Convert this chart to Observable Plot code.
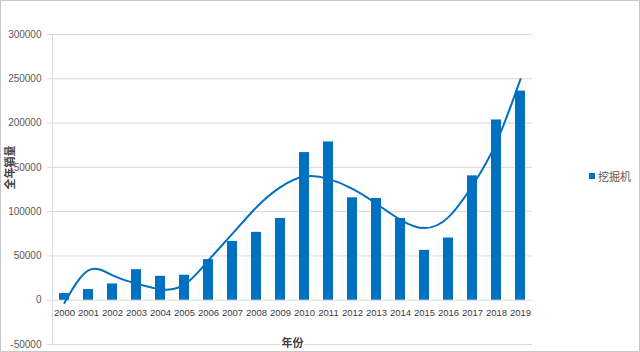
<!DOCTYPE html>
<html>
<head>
<meta charset="utf-8">
<script src="https://cdn.jsdelivr.net/npm/d3@7"></script>
<script src="https://cdn.jsdelivr.net/npm/@observablehq/plot@0.6"></script>
<style>
  body { margin: 0; background: #fff; }
  #wrap { position: relative; width: 640px; height: 352px; background: #fff; overflow: hidden;
          font-family: "Liberation Sans", Arial, "Noto Sans CJK SC", sans-serif; }
  #chart svg { position: absolute; left: 0; top: 0; }
  #border { position: absolute; left: 0; top: 0; width: 640px; height: 352px; box-sizing: border-box;
            border: 1px solid #c8c8c8; pointer-events: none; }
  #legend { position: absolute; left: 589px; top: 168px; font-size: 11px; color: #595959;
            display: flex; align-items: center; font-family: "Noto Sans CJK SC", sans-serif; }
  #legend .sw { display: inline-block; width: 6px; height: 6px; background: #0070c0; margin-right: 3px; }
</style>
</head>
<body>
<div id="wrap">
  <div id="chart"></div>
  <div id="legend"><span class="sw"></span><span>挖掘机</span></div>
  <div id="border"></div>
</div>
<script>
const years = ["2000","2001","2002","2003","2004","2005","2006","2007","2008","2009",
               "2010","2011","2012","2013","2014","2015","2016","2017","2018","2019"];
const sales = [7500, 12000, 18400, 34500, 27000, 28200, 45800, 66400, 76600, 92300,
               166700, 178700, 115600, 114900, 92300, 56300, 70200, 140400, 203500, 236100];
const trend = [-3000, 33800, 28100, 18800, 12400, 17500, 45000, 75100, 105000, 127600,
               139600, 137000, 125700, 108900, 90800, 81400, 93800, 129500, 178300, 249600];
const yTicks = [-50000, 0, 50000, 100000, 150000, 200000, 250000, 300000];
const seriesName = "挖掘机";
const xTitle = "年份";
const yTitle = "全年销量";

const data = years.map((y, i) => ({year: y, sales: sales[i], trend: trend[i]}));

const chart = Plot.plot({
  width: 640,
  height: 352,
  marginLeft: 52,
  marginRight: 108,
  marginTop: 34,
  marginBottom: 8,
  style: {fontFamily: "'Liberation Sans', Arial, sans-serif", fontSize: "10px", color: "#595959", background: "transparent"},
  x: {domain: years, paddingInner: 0.58, paddingOuter: 0.29, axis: null},
  y: {domain: [-50000, 300000], ticks: yTicks},
  marks: [
    Plot.gridY(yTicks, {stroke: "#d9d9d9", strokeOpacity: 1}),
    Plot.axisY(yTicks, {tickSize: 5, tickPadding: 6, stroke: "#d9d9d9", fill: "#595959",
                        label: null, tickFormat: d => String(d), fontSize: 10}),
    Plot.frame({anchor: "left", stroke: "#d9d9d9"}),
    Plot.barY(data, {x: "year", y: "sales", fill: "#0070c0"}),
    Plot.line(data, {x: "year", y: "trend", stroke: "#0070c0", strokeWidth: 2, curve: "natural"}),
    Plot.text(data, {x: "year", y: () => 0, text: "year", dy: 13, fill: "#404040", fontSize: 9.5}),
    Plot.text([xTitle], {frameAnchor: "bottom", lineAnchor: "middle", dy: -1, fontWeight: "bold",
                         fontSize: 11, fill: "#404040", stroke: "white", strokeWidth: 4,
                         fontFamily: "'Noto Sans CJK SC', sans-serif"}),
    Plot.text([yTitle], {frameAnchor: "left", rotate: -90, dx: -42, fontWeight: "bold",
                         fontSize: 11, fill: "#404040", fontFamily: "'Noto Sans CJK SC', sans-serif"})
  ]
});
document.getElementById("chart").appendChild(chart);
</script>
</body>
</html>
